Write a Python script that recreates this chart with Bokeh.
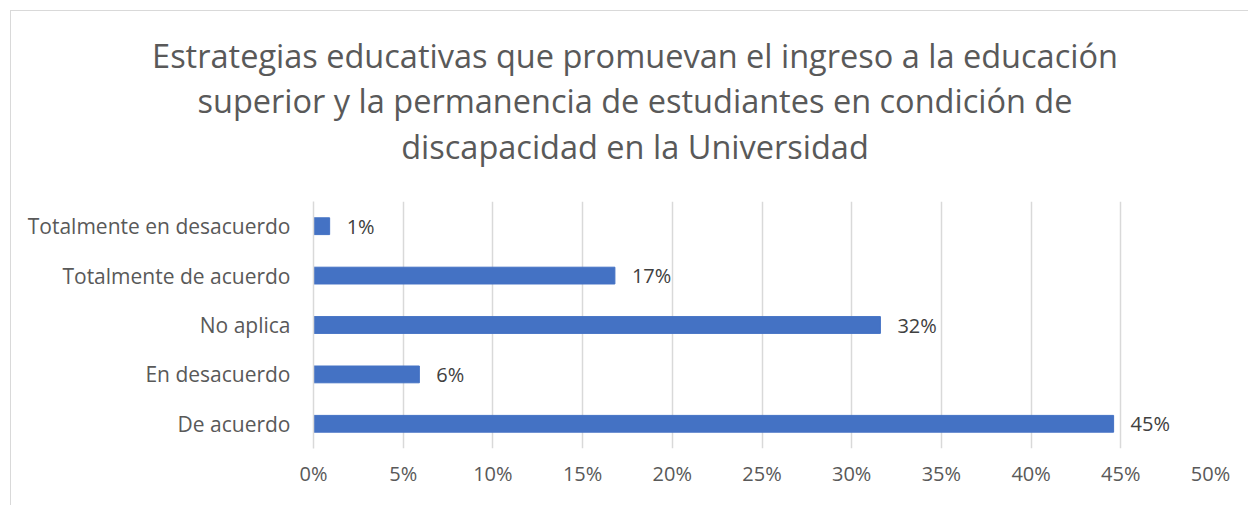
from bokeh.plotting import figure
from bokeh.layouts import column
from bokeh.models import ColumnDataSource, LabelSet, Range1d, FactorRange, FixedTicker, NumeralTickFormatter
from bokeh.core.properties import value
from bokeh.embed import file_html
from bokeh.resources import INLINE

categories = ["De acuerdo", "En desacuerdo", "No aplica", "Totalmente de acuerdo", "Totalmente en desacuerdo"]
values = [0.446, 0.059, 0.316, 0.168, 0.009]
x_ticks = [0.0, 0.05, 0.10, 0.15, 0.20, 0.25, 0.30, 0.35, 0.40, 0.45, 0.50]
title_lines = [
    "Estrategias educativas que promuevan el ingreso a la educación",
    "superior y la permanencia de estudiantes en condición de",
    "discapacidad en la Universidad",
]

labels = [f"{round(v * 100)}%" for v in values]
src = ColumnDataSource(dict(cat=categories, val=values, lab=labels))

FONT = "Open Sans"
TXT = "#595959"
GRID = "#d9d9d9"
W = 1237
TH = 190

# ---- title area (pixel-space figure) ----
tfig = figure(width=W, height=TH, output_backend="svg", toolbar_location=None,
              x_range=Range1d(0, W), y_range=Range1d(0, TH),
              min_border_left=0, min_border_right=0, min_border_top=0, min_border_bottom=0,
              outline_line_color=None, frame_align=False)
tfig.axis.visible = False
tfig.grid.visible = False
title_x = [W / 2 + 5] * 3
title_y = [146, 101, 55]
tfig.text(x=title_x, y=title_y, text=title_lines, text_align="center", text_baseline="alphabetic",
          text_font=value(FONT), text_font_size="32.5px", text_color=TXT)

# ---- bar chart ----
p = figure(width=W, height=494 - TH, output_backend="svg", toolbar_location=None,
           y_range=FactorRange(*categories), x_range=Range1d(0, 0.5),
           min_border_left=302, min_border_right=38, min_border_top=0, min_border_bottom=57,
           outline_line_color=None, frame_align=False)

p.hbar(y="cat", right="val", left=0, height=0.34, source=src, color="#4472C4")

p.add_layout(LabelSet(x="val", y="cat", text="lab", source=src, x_offset=17,
                      text_baseline="middle", text_align="left", text_font=value(FONT),
                      text_font_size="20px", text_color="#404040"))

p.xaxis.ticker = FixedTicker(ticks=x_ticks)
p.xaxis.formatter = NumeralTickFormatter(format="0%")
p.xaxis.axis_line_color = None
p.xaxis.major_tick_line_color = None
p.xaxis.minor_tick_line_color = None
p.xaxis.major_label_text_font = FONT
p.xaxis.major_label_text_font_size = "20px"
p.xaxis.major_label_text_color = TXT
p.xaxis.major_label_standoff = 5

p.yaxis.axis_line_color = GRID
p.yaxis.axis_line_width = 1.5
p.yaxis.major_tick_line_color = None
p.yaxis.minor_tick_line_color = None
p.yaxis.major_label_text_font = FONT
p.yaxis.major_label_text_font_size = "21px"
p.yaxis.major_label_text_color = TXT
p.yaxis.major_label_standoff = 17

p.xgrid.grid_line_color = GRID
p.xgrid.grid_line_width = 1.5
p.ygrid.grid_line_color = None

layout = column(tfig, p, spacing=0, margin=(10, 0, 0, 10),
                styles={"border": "1px solid #d9d9d9", "box-sizing": "border-box"})

open("out.html", "w").write(file_html(layout, INLINE))
